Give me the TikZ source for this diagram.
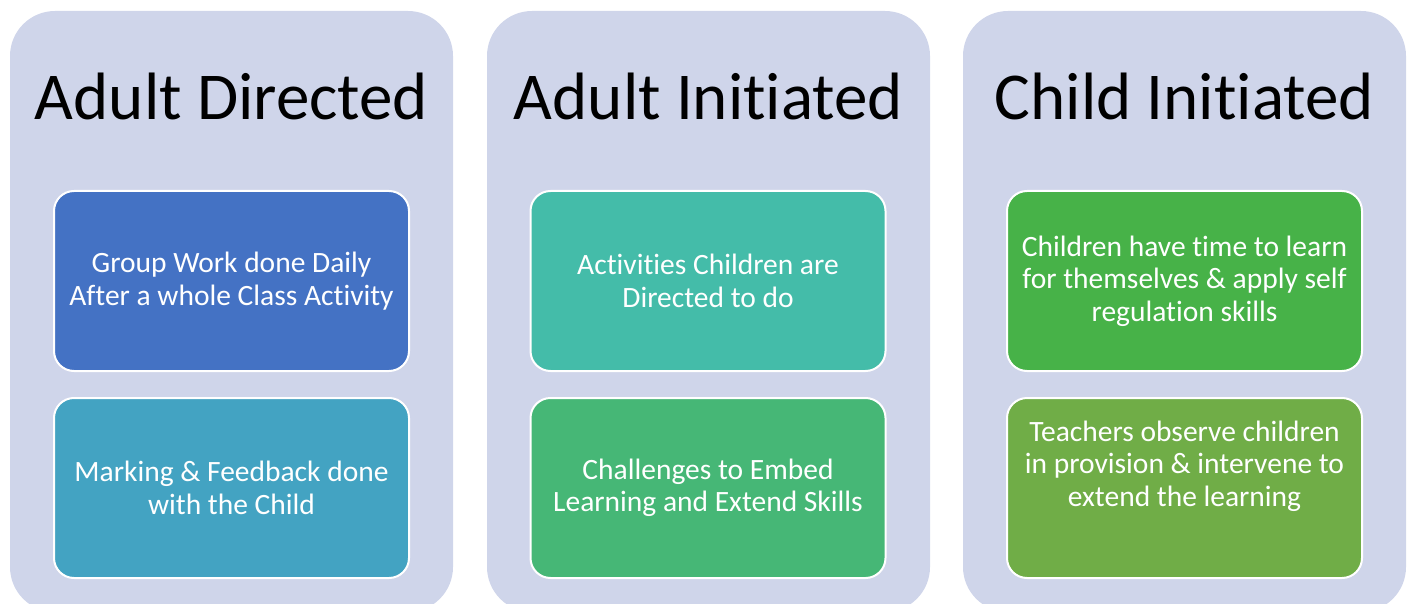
\documentclass[tikz,border=0pt]{standalone}
\usepackage{fontspec}
\setmainfont{Carlito}[Ligatures={NoCommon}]
\definecolor{panelbg}{HTML}{CFD5EA}
\definecolor{cA}{HTML}{4472C4}
\definecolor{cB}{HTML}{43A3C2}
\definecolor{cC}{HTML}{44BCA9}
\definecolor{cD}{HTML}{46B776}
\definecolor{cE}{HTML}{47B248}
\definecolor{cF}{HTML}{70AD47}
\begin{document}
\begin{tikzpicture}[x=1pt,y=-1pt,
  panel/.style={fill=panelbg, draw=none, rounded corners=45pt},
  title/.style={font=\fontsize{67}{70}\selectfont, text=black, anchor=base},
  itemtext/.style={text=white, align=center, font=\fontsize{29.5}{32.5}\selectfont, inner sep=0pt},
  item/.style={itemtext, draw=white, line width=2pt, rounded corners=20pt, minimum width=355pt, minimum height=180pt}]
\useasboundingbox (0,0) rectangle (1413,604);
\begin{scope}
\clip (0,0) rectangle (1413,604);
\fill[panel] (10,11) rectangle (453,612);
\fill[panel] (487,11) rectangle (930,612);
\fill[panel] (963,11) rectangle (1406,612);
\end{scope}
\node[title] (t1) at (231.5,120) {Adult Directed};
\node[title] (t2) at (708.5,120) {Adult Initiated};
\node[title] (t3) at (1184.5,120) {Child Initiated};
\node[item, fill=cA] (a1) at (231.5,281) {Group Work done Daily\\After a whole Class Activity};
\node[item, fill=cB] (a2) at (231.5,488) {Marking \& Feedback done\\with the Child};
\node[item, fill=cC] (b1) at (708,281) {Activities Children are\\Directed to do};
\node[item, fill=cD] (b2) at (708,488) {Challenges to Embed\\Learning and Extend Skills};
\node[item, fill=cE] (c1) at (1184.5,281) {Children have time to learn\\for themselves \& apply self\\regulation skills};
\node[item, fill=cF] (c2) at (1184.5,488) {};
\node[itemtext] (c2t) at (1184.5,466) {Teachers observe children\\in provision \& intervene to\\extend the learning};
\end{tikzpicture}
\end{document}
